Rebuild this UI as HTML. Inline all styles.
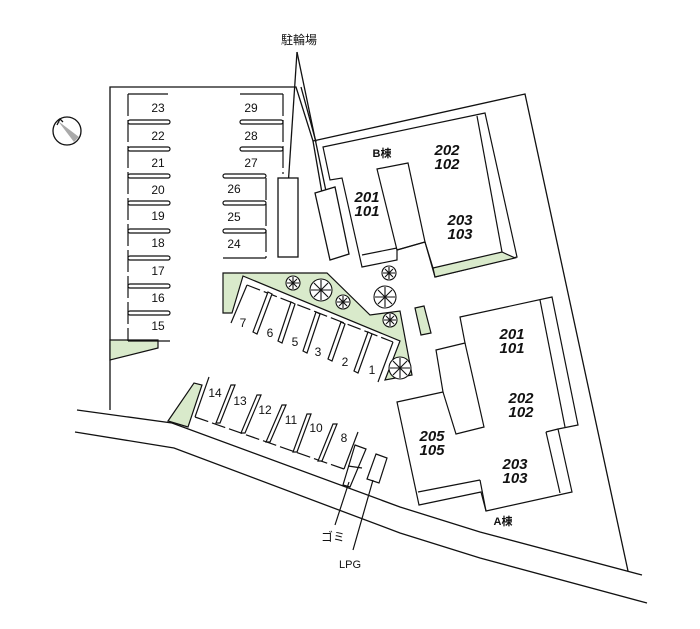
<!DOCTYPE html>
<html><head><meta charset="utf-8"><style>
html,body{margin:0;padding:0;background:#fff;}
svg{display:block;}
text{font-family:"Liberation Sans","Noto Sans CJK JP",sans-serif;fill:#111;}
.n{font-size:12px;text-anchor:middle;}
.u{font-size:15px;font-weight:bold;font-style:italic;text-anchor:middle;}
.l{font-size:11px;text-anchor:middle;}
</style></head><body>
<svg width="700" height="629" viewBox="0 0 700 629" xmlns="http://www.w3.org/2000/svg">
<g fill="none" stroke="#111" stroke-width="1.3">
<circle cx="67" cy="131" r="14" fill="#fff"/>
<polygon points="58,121 79,137 74,142" fill="#aaa" stroke="none"/>
<path d="M57,125 L60,119 L63,122"/>
<polyline points="110,410 110,87 296,87 313,141 525,94 628,571"/>
<line x1="301" y1="87" x2="316" y2="142"/>
<line x1="313" y1="141" x2="322" y2="193"/>
<line x1="297" y1="52" x2="288" y2="187"/>
<line x1="297" y1="52" x2="327" y2="196"/>
<rect x="278" y="178" width="20" height="79" fill="#fff"/>
<polygon points="315,193 335,187 349,254 330,260" fill="#fff"/>
<polyline points="77,410 172,423 400,507 480,532 642,575"/>
<polyline points="75,432 174,448 400,533 480,558 647,603"/>
</g>
<g fill="#d9eacb" stroke="#111" stroke-width="1.2">
<polygon points="110,340 158,340 158,348 110,360"/>
<polygon points="223,273 327,273 370,315 400,311 412,375 385,380 400,341 243,276 232,313 223,313"/>
<polygon points="168,421 194,383 202,385 188,427"/>
<polygon points="415,308 424,306 431,333 421,335"/>
</g>
<g fill="none" stroke="#111" stroke-width="1.2">
<line x1="128" y1="94" x2="168" y2="94"/>
<line x1="128" y1="94" x2="128" y2="341" stroke-dasharray="22 4"/>
<line x1="128" y1="341" x2="170" y2="341"/>
<g fill="#fff">
<rect x="128" y="120" width="42" height="4" rx="2"/>
<rect x="128" y="147" width="42" height="4" rx="2"/>
<rect x="128" y="174" width="42" height="4" rx="2"/>
<rect x="128" y="201" width="42" height="4" rx="2"/>
<rect x="128" y="229" width="42" height="4" rx="2"/>
<rect x="128" y="256" width="42" height="4" rx="2"/>
<rect x="128" y="284" width="42" height="4" rx="2"/>
<rect x="128" y="311" width="42" height="4" rx="2"/>
<rect x="240" y="120" width="43" height="4" rx="2"/>
<rect x="240" y="147" width="43" height="4" rx="2"/>
<rect x="223" y="174" width="43" height="4" rx="2"/>
<rect x="223" y="201" width="43" height="4" rx="2"/>
<rect x="223" y="229" width="43" height="4" rx="2"/>
</g>
<line x1="240" y1="94" x2="283" y2="94"/>
<line x1="283" y1="94" x2="283" y2="174" stroke-dasharray="22 4"/>
<line x1="266" y1="178" x2="266" y2="258" stroke-dasharray="22 4"/>
<line x1="223" y1="258" x2="266" y2="258"/>
<line x1="247" y1="285" x2="393" y2="342" stroke-dasharray="14 4"/>
<line x1="247" y1="285" x2="231" y2="323"/>
<line x1="393" y1="342" x2="378" y2="382"/>
<g fill="#fff">
<polygon points="268,292 272,294 257,334 253,332"/>
<polygon points="291,302 295,304 282,343 278,341"/>
<polygon points="316,312 320,314 307,353 303,351"/>
<polygon points="341,322 345,324 332,361 328,359"/>
<polygon points="368,332 372,334 358,373 354,371"/>
</g>
<line x1="195" y1="417" x2="344" y2="469" stroke-dasharray="14 4"/>
<line x1="195" y1="417" x2="209" y2="377"/>
<line x1="344" y1="469" x2="358" y2="432"/>
<g fill="#fff">
<polygon points="216,423 220,423 235,385 231,385"/>
<polygon points="241,433 245,433 261,395 257,395"/>
<polygon points="266,442 270,442 286,405 282,405"/>
<polygon points="293,452 297,452 311,414 307,414"/>
<polygon points="318,461 322,461 337,424 333,424"/>
</g>
<polygon points="355,445 366,449 350,487 343,485" fill="#fff"/>
<line x1="348" y1="466" x2="362" y2="468"/>
<polygon points="376,454 387,458 379,483 367,479" fill="#fff"/>
<line x1="349" y1="482" x2="335" y2="525"/>
<line x1="373" y1="480" x2="353" y2="550"/>
<polygon points="323,147 485,113 517,257 435,277 425,242 397,250 397,260 362,267 342,178 330,180" fill="#fff"/>
<polygon points="377,169 408,163 425,242 397,250" />
<line x1="362" y1="255" x2="397" y2="248"/>
<line x1="425" y1="242" x2="433" y2="268"/>
<line x1="477" y1="116" x2="502" y2="252"/>
</g>
<polygon points="433,268 502,252 515,258 435,277" fill="#d9eacb" stroke="#111" stroke-width="1.2"/>
<g fill="none" stroke="#111" stroke-width="1.2">
<polygon points="460,317 552,297 578,425 558,429 572,492 486,511 481,492 419,505 397,402 443,392 436,350 465,343" fill="#fff"/>
<line x1="540" y1="300" x2="565" y2="427"/>
<line x1="546" y1="432" x2="558" y2="429"/>
<line x1="546" y1="432" x2="560" y2="493"/>
<polyline points="465,343 484,427 456,434 443,392"/>
<line x1="418" y1="492" x2="480" y2="480"/>
<line x1="480" y1="480" x2="486" y2="511"/>
</g>
<g fill="#fff" stroke="#111" stroke-width="1.1">
<g transform="translate(293,283)"><circle r="7"/><path d="M-6,0H6M0,-6V6M-4,-4L4,4M4,-4L-4,4"/></g>
<g transform="translate(321,290)"><circle r="11"/><path d="M-10,0H10M0,-10V10M-7,-7L7,7M7,-7L-7,7"/></g>
<g transform="translate(343,302)"><circle r="7"/><path d="M-6,0H6M0,-6V6M-4,-4L4,4M4,-4L-4,4"/></g>
<g transform="translate(389,273)"><circle r="7"/><path d="M-6,0H6M0,-6V6M-4,-4L4,4M4,-4L-4,4"/></g>
<g transform="translate(385,297)"><circle r="11"/><path d="M-10,0H10M0,-10V10M-7,-7L7,7M7,-7L-7,7"/></g>
<g transform="translate(390,320)"><circle r="7"/><path d="M-6,0H6M0,-6V6M-4,-4L4,4M4,-4L-4,4"/></g>
<g transform="translate(400,368)"><circle r="11"/><path d="M-10,0H10M0,-10V10M-7,-7L7,7M7,-7L-7,7"/></g>
</g>
<text x="299" y="44" class="l" style="font-size:12px">駐輪場</text>
<g>
<text x="158" y="112" class="n">23</text><text x="158" y="140" class="n">22</text>
<text x="158" y="167" class="n">21</text><text x="158" y="194" class="n">20</text>
<text x="158" y="220" class="n">19</text><text x="158" y="247" class="n">18</text>
<text x="158" y="275" class="n">17</text><text x="158" y="302" class="n">16</text>
<text x="158" y="330" class="n">15</text>
<text x="251" y="112" class="n">29</text><text x="251" y="140" class="n">28</text>
<text x="251" y="167" class="n">27</text>
<text x="234" y="193" class="n">26</text><text x="234" y="221" class="n">25</text>
<text x="234" y="248" class="n">24</text>
<text x="243" y="327" class="n">7</text><text x="270" y="337" class="n">6</text>
<text x="295" y="346" class="n">5</text><text x="318" y="356" class="n">3</text>
<text x="345" y="366" class="n">2</text><text x="372" y="374" class="n">1</text>
<text x="215" y="397" class="n">14</text><text x="240" y="405" class="n">13</text>
<text x="265" y="414" class="n">12</text><text x="291" y="424" class="n">11</text>
<text x="316" y="432" class="n">10</text><text x="344" y="442" class="n">8</text>
</g>
<text x="333" y="541" class="l" style="font-size:12px">ゴミ</text>
<text x="350" y="568" class="l">LPG</text>
<text x="382" y="157" class="l" style="font-weight:bold">B棟</text>
<text x="503" y="525" class="l" style="font-weight:bold">A棟</text>
<text x="447" y="155" class="u">202</text><text x="447" y="169" class="u">102</text>
<text x="367" y="202" class="u">201</text><text x="367" y="216" class="u">101</text>
<text x="460" y="225" class="u">203</text><text x="460" y="239" class="u">103</text>
<text x="512" y="339" class="u">201</text><text x="512" y="353" class="u">101</text>
<text x="521" y="403" class="u">202</text><text x="521" y="417" class="u">102</text>
<text x="432" y="441" class="u">205</text><text x="432" y="455" class="u">105</text>
<text x="515" y="469" class="u">203</text><text x="515" y="483" class="u">103</text>
</svg>
</body></html>
